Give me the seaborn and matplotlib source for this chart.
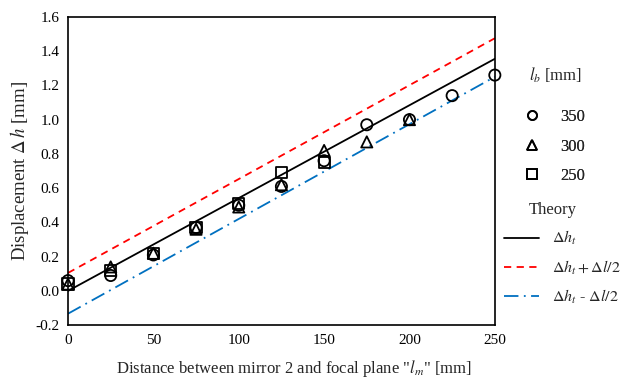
import numpy as np
import pandas as pd
import matplotlib
matplotlib.use("Agg")
import matplotlib.pyplot as plt
import seaborn as sns
from matplotlib.lines import Line2D

# ---- data ----
x_350 = [0, 25, 50, 75, 100, 125, 150, 175, 200, 225, 250]
y_350 = [0.06, 0.09, 0.21, 0.37, 0.50, 0.61, 0.76, 0.97, 1.00, 1.14, 1.26]
x_300 = [0, 25, 50, 75, 100, 125, 150, 175, 200]
y_300 = [0.04, 0.14, 0.22, 0.36, 0.49, 0.62, 0.82, 0.87, 1.00]
x_250 = [0, 25, 50, 75, 100, 125, 150]
y_250 = [0.04, 0.12, 0.22, 0.37, 0.51, 0.69, 0.75]

x_theory = [0, 250]
y_theory = [0.0, 1.355]
y_theory_plus = [0.105, 1.475]
y_theory_minus = [-0.133, 1.25]

groups = ["350", "300", "250"]
xticks = [0, 50, 100, 150, 200, 250]
yticks = [-0.2, 0.0, 0.2, 0.4, 0.6, 0.8, 1.0, 1.2, 1.4, 1.6]

df = pd.DataFrame({
    "x": x_350 + x_300 + x_250,
    "y": y_350 + y_300 + y_250,
    "g": ["350"] * len(x_350) + ["300"] * len(x_300) + ["250"] * len(x_250),
})

sns.set_theme(style="white")
plt.rcParams["font.family"] = ["Liberation Serif", "DejaVu Serif"]
plt.rcParams["mathtext.fontset"] = "stix"

fig = plt.figure(figsize=(6.24, 3.83), dpi=100)
ax = fig.add_axes([0.109, 0.151, 0.684, 0.805])

ax.plot(x_theory, y_theory, color="black", lw=1.3, zorder=2)
ax.plot(x_theory, y_theory_plus, color="#ff0000", lw=1.3, ls=(0, (4, 3)), zorder=2)
ax.plot(x_theory, y_theory_minus, color="#0070c0", lw=1.3, ls=(0, (8, 3, 1, 3)), zorder=2)

markers = {"350": "o", "300": "^", "250": "s"}
sns.scatterplot(data=df, x="x", y="y", style="g", style_order=groups,
                markers=markers, s=65, facecolor="none", edgecolor="black",
                linewidth=1.3, ax=ax, legend=False, zorder=3, clip_on=False)

ax.set_xlim(0, 250)
ax.set_ylim(-0.2, 1.6)
ax.set_xticks(xticks)
ax.set_yticks(yticks)
ax.set_yticklabels([f"{v:.1f}" for v in yticks])
ax.tick_params(length=0, labelsize=11, colors="black", pad=6)
for s in ax.spines.values():
    s.set_color("black")
    s.set_linewidth(1.2)

ax.set_xlabel('Distance between mirror 2 and focal plane "$l_m$" [mm]', fontsize=12)
ax.xaxis.set_label_coords(0.53, -0.105)
ax.set_ylabel("Displacement $\\Delta\\,h$ [mm]", fontsize=13.5, labelpad=3)

fig.text(556 / 624, 1 - 75 / 383, "$l_b$ [mm]", ha="center", va="center", fontsize=12)
mk_handles = [Line2D([], [], ls="none", marker=markers[g], mfc="none", mec="black",
                     mew=1.3, ms=6.5) for g in groups]
leg1 = fig.legend(mk_handles, groups, loc="upper left",
                  bbox_to_anchor=(0.815, 0.755), frameon=False, fontsize=12,
                  handlelength=1.0, handletextpad=1.2, labelspacing=0.82)
ln_handles = [Line2D([], [], color="black", lw=1.3),
              Line2D([], [], color="#ff0000", lw=1.3, ls=(0, (4, 3))),
              Line2D([], [], color="#0070c0", lw=1.3, ls=(0, (8, 3, 1, 3)))]
ln_labels = ["$\\Delta h_t$", "$\\Delta h_t + \\Delta l/2$", "$\\Delta h_t$ - $\\Delta l/2$"]
leg2 = fig.legend(ln_handles, ln_labels, title="Theory", loc="upper left",
                  bbox_to_anchor=(0.785, 0.51), frameon=False, fontsize=11.5,
                  title_fontsize=12, handlelength=2.2, handletextpad=0.8,
                  labelspacing=0.7)
leg2._legend_box.align = "left"
leg2.get_title().set_position((25, 0))
fig.add_artist(leg1)

fig.savefig("out.png", dpi=100)
